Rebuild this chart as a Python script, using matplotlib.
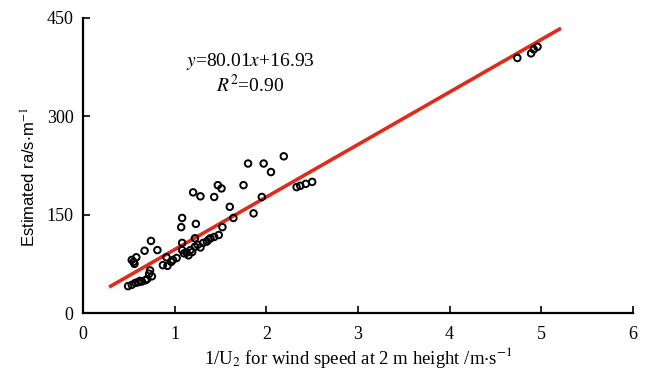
import numpy as np
import matplotlib.pyplot as plt

plt.rcParams['font.family'] = ['Liberation Serif', 'DejaVu Serif']
plt.rcParams['mathtext.fontset'] = 'stix'

# observed points (1/U2, estimated ra)
inv_u2 = [0.49, 0.53, 0.57, 0.60, 0.64, 0.68, 0.70, 0.73, 0.75, 0.55, 0.53, 0.56, 0.58,
          0.67, 0.74, 0.81, 0.87, 0.92, 0.91, 0.98, 1.02, 1.08, 1.08, 1.07, 1.08, 1.10,
          1.15, 1.19, 1.22, 1.22, 1.23, 1.20, 1.28, 1.25, 1.31, 1.35, 1.39, 1.43, 1.48,
          1.52, 1.43, 1.47, 1.51, 1.60, 1.64, 1.75, 1.80, 1.86, 1.95, 1.97, 2.05, 2.19,
          2.33, 2.37, 2.43, 2.50, 4.74, 4.89, 4.92, 4.96, 0.96, 1.13, 1.17, 1.28, 1.37,
          0.72, 0.62]
ra_est = [41, 43, 46, 47, 48, 50, 52, 65, 56, 78, 81, 75, 85,
          95, 110, 96, 73, 72, 85, 81, 84, 96, 107, 131, 145, 91,
          88, 93, 101, 114, 136, 184, 178, 104, 107, 109, 114, 116, 119,
          131, 177, 195, 190, 162, 145, 195, 228, 152, 177, 228, 215, 239,
          192, 194, 197, 200, 389, 396, 402, 406, 78, 92, 96, 100, 112,
          60, 49]

slope, intercept = 80.01, 16.93
fit_x = np.array([0.3, 5.2])

fig = plt.figure(figsize=(6.45, 3.74), dpi=100)
ax = fig.add_axes([0.129, 0.163, 0.852, 0.789])

ax.scatter(inv_u2, ra_est, s=22, facecolors='none', edgecolors='black',
           linewidths=1.4, zorder=3)
ax.plot(fit_x, slope * fit_x + intercept, color='#e02a1c', linewidth=2.6, zorder=2)

ax.text(1.82, 383, r'$y$=80.01$x$+16.93', ha='center', va='center', fontsize=14)
ax.text(1.82, 348, r'$R^2$=0.90', ha='center', va='center', fontsize=14)

ax.set_xlim(0, 6)
ax.set_ylim(0, 450)
ax.set_xticks(range(0, 7))
ax.set_yticks([0, 150, 300, 450])
ax.spines['top'].set_visible(False)
ax.spines['right'].set_visible(False)
for sp in ('left', 'bottom'):
    ax.spines[sp].set_linewidth(1.6)
ax.tick_params(direction='in', length=5, width=1.2, labelsize=13)
ax.tick_params(axis='x', pad=9)
ax.tick_params(axis='y', pad=7)

ax.set_xlabel(r'1/U$_2$ for wind speed at 2 m height /m$\cdot$s$^{-1}$', fontsize=13.5)
ax.xaxis.set_label_coords(0.5, -0.11)
ax.set_ylabel(r'Estimated ra/s$\cdot$m$^{-1}$', fontsize=12,
              family=['Liberation Sans Narrow', 'Liberation Sans', 'DejaVu Sans'])
ax.yaxis.set_label_coords(-0.08, 0.46)

fig.savefig('out.png', dpi=100)
